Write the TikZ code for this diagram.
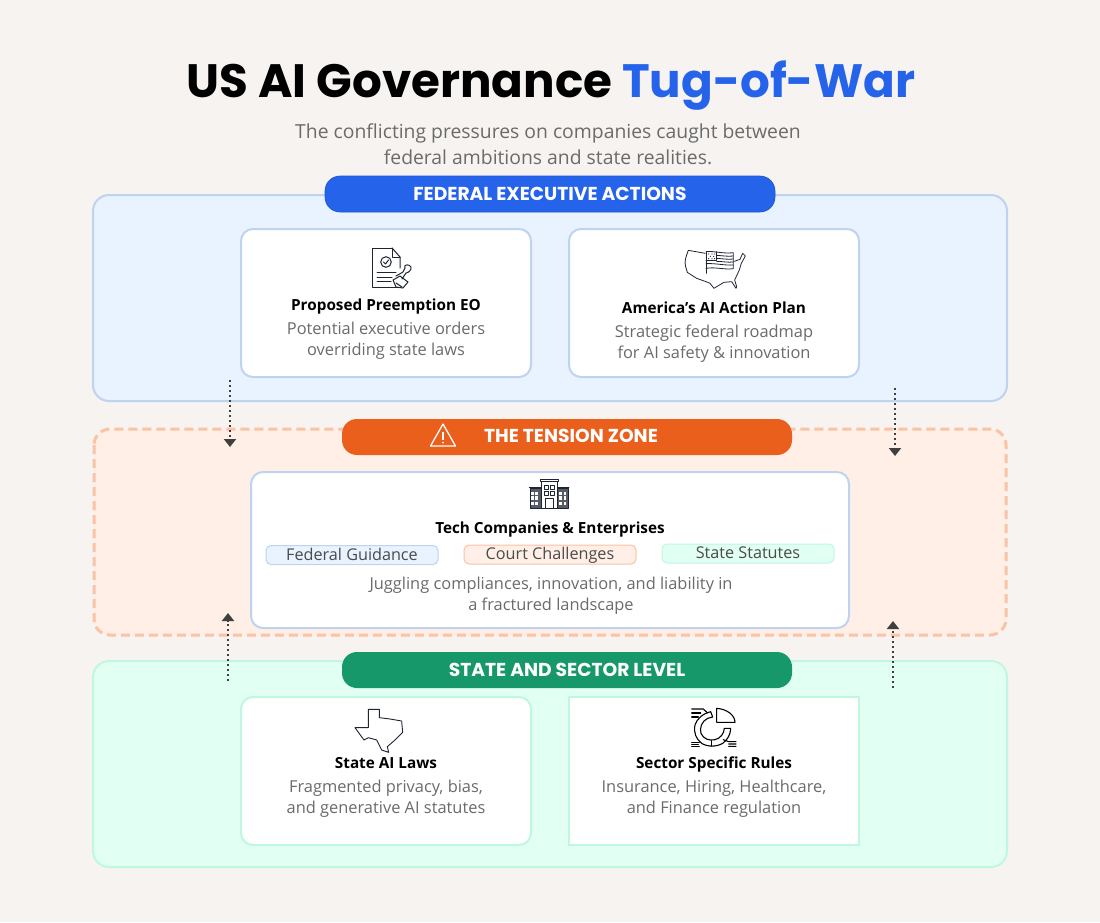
\documentclass[tikz,border=0pt]{standalone}
\usepackage{fontspec}
\setmainfont{Open Sans}
\newfontfamily\popp{Poppins}
\usetikzlibrary{arrows.meta}
\definecolor{bgc}{HTML}{F7F3F1}
\definecolor{fedfill}{HTML}{E9F2FF}
\definecolor{fededge}{HTML}{BDD3F0}
\definecolor{tenfill}{HTML}{FFEFE6}
\definecolor{tenedge}{HTML}{FBC2A3}
\definecolor{stfill}{HTML}{E1FFF2}
\definecolor{stedge}{HTML}{BFF7E0}
\definecolor{bluep}{HTML}{2563EB}
\definecolor{orangep}{HTML}{EA5F1B}
\definecolor{greenp}{HTML}{16986A}
\definecolor{greytxt}{HTML}{6B6B6B}
\definecolor{iconc}{HTML}{1F2433}
\definecolor{arrowc}{HTML}{3F3F3F}
\tikzset{
  x=1pt,y=-1pt,
  panel/.style={draw,line width=2pt,rounded corners=16pt,minimum width=#1,inner sep=0pt,outer sep=0pt},
  cardbox/.style={draw=fededge,fill=white,line width=2pt,rounded corners=12pt,inner sep=0pt,outer sep=0pt},
  pill/.style={rounded corners=15pt,minimum width=450pt,minimum height=36pt,inner sep=0pt,outer sep=0pt,text=white,font=\popp\bfseries\fontsize{18.7}{20}\selectfont},
  chip/.style={draw,line width=1pt,rounded corners=5pt,minimum width=172pt,minimum height=19pt,inner sep=0pt,outer sep=0pt},
  chiptext/.style={text=greytxt!70!black,font=\fontsize{16.2}{18}\selectfont,text height=11.5pt,text depth=3.5pt,inner sep=0pt},
  head/.style={font=\bfseries\fontsize{15.3}{18}\selectfont,text=black,inner sep=0pt,text height=11.5pt,text depth=3.5pt},
  body/.style={font=\fontsize{16.4}{21}\selectfont,text=greytxt,align=center,inner sep=0pt},
  flow/.style={draw=arrowc,line width=2.4pt,dash pattern=on 2.4pt off 2.6pt,-{Triangle[width=12pt,length=8pt,fill=arrowc]}},
  icon/.style={draw=iconc,line width=1pt,line join=round,line cap=round,fill=none},
}
\begin{document}
\begin{tikzpicture}
\useasboundingbox[fill=bgc] (0,0) rectangle (1100,922);
% title
\node[anchor=base west,inner sep=0pt,font=\popp\bfseries\fontsize{46.8}{50}\selectfont] (title) at (186.5,97) {US AI Governance \textcolor{bluep}{Tug-of-War}};
\node[font=\fontsize{19.35}{26}\selectfont,text=greytxt,align=center,inner sep=0pt] (sub) at (548,144) {The conflicting pressures on companies caught between\\federal ambitions and state realities.};
% panels
\node[panel=914pt,minimum height=206pt,draw=fededge,fill=fedfill] (fed) at (550,298) {};
\node[panel=912pt,minimum height=206pt,draw=none,fill=tenfill] (ten) at (550,532) {};
\draw[draw=tenedge,line width=3pt,rounded corners=16pt,dash pattern=on 9pt off 5pt] (ten.north west) rectangle (ten.south east);
\node[panel=914pt,minimum height=206pt,draw=stedge,fill=stfill] (st) at (550,764) {};
% pills
\node[pill,fill=bluep,draw=bluep!85!black,line width=.6pt] (pfed) at (550,194) {FEDERAL EXECUTIVE ACTIONS};
\node[pill,fill=orangep] (pten) at (567,437) {};
\node[font=\popp\bfseries\fontsize{18.7}{20}\selectfont,text=white,inner sep=0pt] (ptent) at (571,436) {THE TENSION ZONE};
\node[pill,fill=greenp] (pst) at (567,670) {STATE AND SECTOR LEVEL};
% warning icon
\draw[white,line width=1.3pt,line join=round] (443,424) -- (455.5,446) -- (430.5,446) -- cycle;
\draw[white,line width=1.5pt] (443,431.5) -- (443,439.5);
\fill[white] (443,442.6) circle (1pt);
% cards
\node[cardbox,minimum width=290pt,minimum height=148pt] (c1) at (386,303) {};
\node[cardbox,minimum width=290pt,minimum height=148pt] (c2) at (714,303) {};
\node[cardbox,minimum width=598pt,minimum height=156pt] (c3) at (550,550) {};
\node[cardbox,draw=stedge,minimum width=290pt,minimum height=148pt] (c4) at (386,771) {};
\node[cardbox,draw=stedge,rounded corners=0pt,minimum width=290pt,minimum height=148pt] (c5) at (714,771) {};
% card texts
\node[head] (h1) at (386,306) {Proposed Preemption EO};
\node[body] (b1) at (386,340.5) {Potential executive orders\\overriding state laws};
\node[head] (h2) at (714,309) {America’s AI Action Plan};
\node[body] (b2) at (714,343.5) {Strategic federal roadmap\\for AI safety \& innovation};
\node[head] (h3) at (550,529.5) {Tech Companies \& Enterprises};
\node[body] (b3) at (551,595.5) {Juggling compliances, innovation, and liability in\\a fractured landscape};
\node[head] (h4) at (386,764) {State AI Laws};
\node[body] (b4) at (386,798.5) {Fragmented privacy, bias,\\and generative AI statutes};
\node[head] (h5) at (714,764) {Sector Specific Rules};
\node[body] (b5) at (714,798.5) {Insurance, Hiring, Healthcare,\\and Finance regulation};
% chips
\node[chip,draw=fededge,fill=fedfill] (k1) at (352,555) {};
\node[chip,draw=tenedge,fill=tenfill] (k2) at (550,554.5) {};
\node[chip,draw=stedge,fill=stfill] (k3) at (748,553.5) {};
\node[chiptext] (k1t) at (352,556) {Federal Guidance};
\node[chiptext] (k2t) at (550,555.5) {Court Challenges};
\node[chiptext] (k3t) at (748,554.5) {State Statutes};
% flows
\coordinate (a1) at (230,380); \coordinate (a2) at (230,447);
\coordinate (a3) at (895,388); \coordinate (a4) at (895,456);
\coordinate (a5) at (228,681); \coordinate (a6) at (228,613);
\coordinate (a7) at (893,688); \coordinate (a8) at (893,621);
\draw[flow] (a1) -- (a2);
\draw[flow] (a3) -- (a4);
\draw[flow] (a5) -- (a6);
\draw[flow] (a7) -- (a8);
% document icon
\begin{scope}[icon]
\draw (392,248) -- (372.5,248) -- (372.5,287) -- (400,287);
\draw (392,248) -- (400,257) -- (400,268);
\draw (392,248) -- (392,257) -- (400,257);
\draw (386,262) circle (5.3pt);
\draw (383.5,262) -- (385.5,264) -- (388.5,260);
\draw (377,272.5) -- (396,272.5) (377,277) -- (392,277) (377,281.5) -- (391,281.5);
\draw (393,280) -- (400,276) -- (408,282) -- (403,288) -- (396,287) -- cycle;
\draw (396,276) -- (403,272) -- (405,268) .. controls (403,264) and (410,264) .. (411,267) .. controls (412,270) and (408,273) .. (406,273) -- (402,279);
\draw (396,283) -- (402,287);
\end{scope}
% flag map icon
\begin{scope}[icon,line width=.8pt,shift={(600,230)},x=.3333pt,y=-.3333pt]
\draw (316,70) -- (265,61) .. controls (258,80) and (252,95) .. (257,110) -- (262,127) -- (290,145) -- (318,155) -- (330,160) -- (342,175) -- (350,170) -- (372,157) -- (395,155) -- (408,175) -- (410,170) -- (404,150) -- (418,120) -- (424,100) -- (436,78) -- (428,70) -- (420,88) -- (403,94);
\draw (318,65) -- (318,130);
\draw (318,65) .. controls (340,62) and (370,72) .. (400,68) -- (400,116) .. controls (375,120) and (345,110) .. (318,115);
\draw (350,65) -- (350,91) -- (318,91);
\draw (350,76) .. controls (365,77) and (385,80) .. (400,78);
\draw (350,85) .. controls (365,86) and (385,89) .. (400,87);
\draw (350,94) .. controls (365,94) and (385,98) .. (400,96);
\draw (318,101) .. controls (345,99) and (375,107) .. (400,105);
\foreach \u/\v in {326/72,336/72,344/72,331/79,341/79,326/86,336/86,344/86}{\fill[iconc] (\u,\v) circle (.6pt);}
\end{scope}
% building icon
\begin{scope}[icon,line width=.9pt,shift={(340,410)},x=.3333pt,y=-.3333pt]
\draw[fill=iconc!75] (570,235) rectangle (685,295);
\draw[fill=white] (603,215) rectangle (653,295);
\draw (601,209) rectangle (655,215);
\draw (568,232) -- (603,232) (653,232) -- (687,232);
\foreach \u in {577,590,662,675}\foreach \v in {250,264,280}{\fill[white] (\u-4,\v-5) rectangle (\u+4,\v+5);}
\foreach \u in {619,637}\foreach \v in {231,249}{\draw (\u-5,\v-6) rectangle (\u+5,\v+6);}
\draw (616,295) -- (616,266) -- (640,266) -- (640,295);
\draw (574,295) -- (682,295);
\end{scope}
% texas icon
\draw[icon,shift={(340,695)},x=.3333pt,y=-.3333pt,line width=.9pt] (85,43) -- (118,43) -- (118,68) -- (150,72) -- (185,78) -- (188,112) -- (165,135) -- (142,155) -- (146,172) -- (125,165) -- (110,135) -- (85,128) -- (72,135) -- (45,98) -- (85,98) -- cycle;
% sector icon
\begin{scope}[icon,line width=1.1pt,draw=black,shift={(670,695)},x=.3333pt,y=-.3333pt]
\draw (140,40) -- (140,82) -- (195,82) .. controls (195,60) and (170,42) .. (140,40) -- cycle;
\draw (122,50) -- (128,66) -- (113,70) .. controls (95,78) and (88,100) .. (93,115) .. controls (100,132) and (118,138) .. (135,134) .. controls (152,130) and (162,115) .. (163,100) -- (182,100) .. controls (182,118) and (172,135) .. (158,145) .. controls (140,156) and (112,156) .. (95,145) .. controls (78,132) and (70,112) .. (75,90) .. controls (80,72) and (98,56) .. (122,50);
\draw (65,42) -- (100,42) -- (113,54);
\draw (65,54) -- (92,54) (65,66) -- (85,66);
\draw (125,137) -- (125,153);
\draw (65,142) -- (88,142) (65,148) -- (85,148) (65,154) -- (88,154);
\draw (160,134) -- (176,140) -- (198,140) (176,147) -- (198,147) (176,154) -- (198,154);
\end{scope}
\end{tikzpicture}
\end{document}
